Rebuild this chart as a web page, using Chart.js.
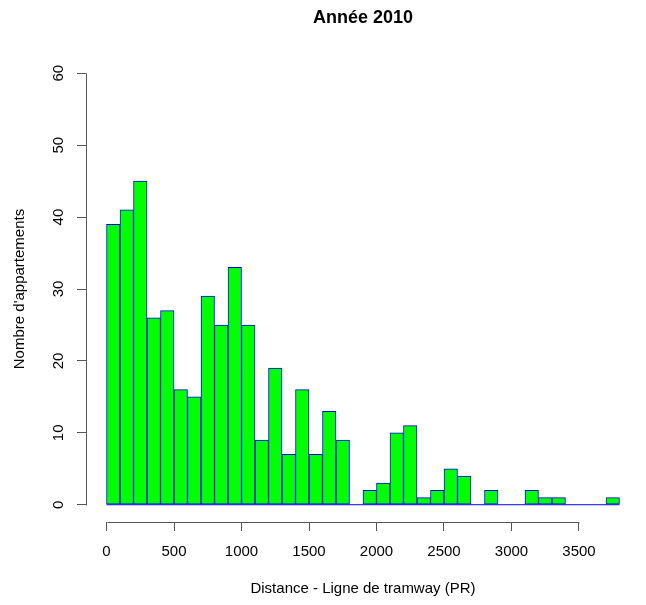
<!DOCTYPE html>
<html>
<head>
<meta charset="utf-8">
<script src="https://cdn.jsdelivr.net/npm/chart.js@4.4.1/dist/chart.umd.min.js"></script>
<style>
  html, body { margin: 0; padding: 0; background: #ffffff; }
  #wrap { width: 646px; height: 605px; }
</style>
</head>
<body>
<div id="wrap"><canvas id="c" width="646" height="605"></canvas></div>
<script>
// ---- data ----
const binStarts = [0,100,200,300,400,500,600,700,800,900,1000,1100,1200,1300,1400,1500,1600,1700,1800,1900,2000,2100,2200,2300,2400,2500,2600,2700,2800,2900,3000,3100,3200,3300,3400,3500,3600,3700];
const binWidth = 100;
const counts = [39,41,45,26,27,16,15,29,25,33,25,9,19,7,16,7,13,9,0,2,3,10,11,1,2,5,4,0,2,0,0,2,1,1,0,0,0,1];
const xTicks = [0,500,1000,1500,2000,2500,3000,3500];
const xTickLabels = ['0','500','1000','1500','2000','2500','3000','3500'];
const yTicks = [0,10,20,30,40,50,60];
const yTickLabels = ['0','10','20','30','40','50','60'];
const titleText = 'Année 2010';
const xTitle = 'Distance - Ligne de tramway (PR)';
const yTitle = "Nombre d'appartements";

const FONT = "'Liberation Sans', Arial, Helvetica, sans-serif";
const AXIS_COLOR = '#555555';

const xMinData = binStarts[0];
const xMaxData = binStarts[binStarts.length - 1] + binWidth;
const xPad = (xMaxData - xMinData) * 0.04;
const yPad = (yTicks[yTicks.length - 1] - yTicks[0]) * 0.04;

const barData = binStarts.map((s, i) => ({ x: s + binWidth / 2, y: counts[i] }));
const baseData = [{ x: xMinData, y: 0 }, { x: xMaxData, y: 0 }];

const axisLines = {
  id: 'axisLines',
  afterDraw(chart) {
    const ctx = chart.ctx;
    const xs = chart.scales.x, ys = chart.scales.y;
    const area = chart.chartArea;
    ctx.save();
    ctx.strokeStyle = AXIS_COLOR;
    ctx.lineWidth = 1;
    ctx.beginPath();
    const yb = Math.round(area.bottom) + 0.5;
    ctx.moveTo(Math.round(xs.getPixelForValue(xTicks[0])) + 0.5, yb);
    ctx.lineTo(Math.round(xs.getPixelForValue(xTicks[xTicks.length - 1])) + 0.5, yb);
    const xl = Math.round(area.left) + 0.5;
    ctx.moveTo(xl, Math.round(ys.getPixelForValue(yTicks[0])) + 0.5);
    ctx.lineTo(xl, Math.round(ys.getPixelForValue(yTicks[yTicks.length - 1])) + 0.5);
    ctx.stroke();
    ctx.restore();
  }
};

new Chart(document.getElementById('c'), {
  data: {
    datasets: [
      {
        type: 'bar',
        data: barData,
        backgroundColor: '#00FF00',
        borderColor: '#0000FF',
        borderWidth: 1,
        borderSkipped: false,
        barPercentage: 1,
        categoryPercentage: 1,
        grouped: false,
        order: 2
      },
      {
        type: 'line',
        data: baseData,
        borderColor: '#0000FF',
        borderWidth: 1,
        pointRadius: 0,
        fill: false,
        order: 1
      }
    ]
  },
  options: {
    responsive: false,
    animation: false,
    devicePixelRatio: 1,
    layout: { padding: { left: 0, right: 6, top: 0, bottom: 0 } },
    plugins: {
      legend: { display: false },
      tooltip: { enabled: false },
      title: {
        display: true,
        text: titleText,
        fullSize: false,
        color: '#000000',
        font: { family: FONT, size: 18, weight: 'bold', lineHeight: 1.2 },
        padding: { top: 7, bottom: 27.4 }
      }
    },
    scales: {
      x: {
        type: 'linear',
        position: 'bottom',
        offset: false,
        min: xMinData - xPad,
        max: xMaxData + xPad,
        afterBuildTicks: (s) => { s.ticks = xTicks.map(v => ({ value: v })); },
        afterFit: (s) => { s.height = 83; },
        border: { display: false },
        grid: { display: true, offset: false, drawOnChartArea: false, drawTicks: true, tickLength: 9, color: AXIS_COLOR, lineWidth: 1 },
        ticks: {
          autoSkip: false,
          maxRotation: 0, minRotation: 0,
          padding: 12,
          color: '#000000',
          font: { family: FONT, size: 15 },
          callback: (v, i) => xTickLabels[i]
        },
        title: {
          display: true,
          text: xTitle,
          color: '#000000',
          font: { family: FONT, size: 15, lineHeight: 1.2 },
          padding: { top: 7, bottom: 7 }
        }
      },
      y: {
        type: 'linear',
        position: 'left',
        min: yTicks[0] - yPad,
        max: yTicks[yTicks.length - 1] + yPad,
        afterBuildTicks: (s) => { s.ticks = yTicks.map(v => ({ value: v })); },
        afterFit: (s) => { s.width = 86; },
        border: { display: false },
        grid: { display: true, drawOnChartArea: false, drawTicks: true, tickLength: 9, color: AXIS_COLOR, lineWidth: 1 },
        ticks: {
          autoSkip: false,
          minRotation: 90, maxRotation: 90,
          crossAlign: 'center',
          padding: 10,
          color: '#000000',
          font: { family: FONT, size: 15 },
          callback: (v, i) => yTickLabels[i]
        },
        title: {
          display: true,
          text: yTitle,
          color: '#000000',
          font: { family: FONT, size: 15, lineHeight: 1.2 },
          padding: { top: 11, bottom: 11 }
        }
      }
    }
  },
  plugins: [axisLines]
});
</script>
</body>
</html>
